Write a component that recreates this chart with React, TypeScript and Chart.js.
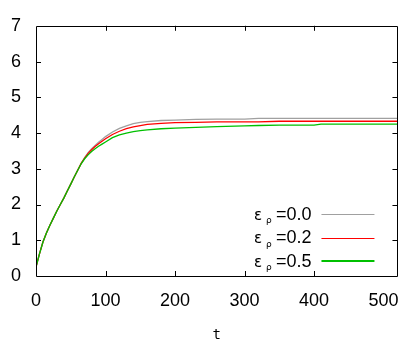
import React, { useEffect, useRef } from "react";
import { Chart, registerables } from "chart.js";

Chart.register(...registerables);

const tValues = [0, 5, 10, 15, 20, 25, 30, 35, 40, 45, 50, 55, 60, 65, 70, 75, 80, 85, 90, 95, 100, 110, 120, 130, 140, 150, 160, 180, 200, 230, 260, 300, 320, 350, 400, 410, 450, 520];
const eps00 = [0.25, 0.62, 0.95, 1.2, 1.42, 1.62, 1.82, 2.0, 2.18, 2.38, 2.57, 2.77, 2.96, 3.15, 3.31, 3.45, 3.56, 3.65, 3.74, 3.82, 3.9, 4.03, 4.13, 4.2, 4.26, 4.3, 4.32, 4.35, 4.36, 4.38, 4.39, 4.39, 4.41, 4.41, 4.41, 4.41, 4.41, 4.41];
const eps02 = [0.25, 0.62, 0.95, 1.2, 1.42, 1.62, 1.82, 2.0, 2.18, 2.38, 2.57, 2.77, 2.96, 3.15, 3.3, 3.43, 3.53, 3.62, 3.7, 3.77, 3.84, 3.96, 4.05, 4.12, 4.17, 4.21, 4.24, 4.27, 4.29, 4.3, 4.31, 4.31, 4.31, 4.33, 4.33, 4.33, 4.33, 4.33];
const eps05 = [0.25, 0.62, 0.95, 1.2, 1.42, 1.62, 1.82, 2.0, 2.18, 2.38, 2.57, 2.77, 2.96, 3.14, 3.28, 3.39, 3.48, 3.56, 3.63, 3.69, 3.75, 3.87, 3.95, 4.0, 4.04, 4.07, 4.09, 4.12, 4.14, 4.16, 4.18, 4.2, 4.21, 4.22, 4.22, 4.25, 4.25, 4.25];
const seriesLabels = ["0.0", "0.2", "0.5"];
const seriesColors = ["#a0a0a0", "#ff0000", "#00c000"];
const xTicks = [0, 100, 200, 300, 400, 500];
const yTicks = [0, 1, 2, 3, 4, 5, 6, 7];

const frame = {
  id: "frame",
  afterDatasetsDraw(chart: any) {
    const { ctx, chartArea } = chart;
    const { left, right, top, bottom } = chartArea;
    const xs = chart.scales.x;
    const ys = chart.scales.y;
    ctx.save();
    ctx.strokeStyle = "#000";
    ctx.lineWidth = 1;
    ctx.beginPath();
    ctx.rect(Math.round(left) + 0.5, Math.round(top) + 0.5, Math.round(right - left), Math.round(bottom - top));
    ctx.stroke();
    const tl = 5;
    ctx.beginPath();
    xTicks.forEach((v) => {
      if (v <= 0 || v >= 500) return;
      const px = Math.round(xs.getPixelForValue(v)) + 0.5;
      ctx.moveTo(px, bottom);
      ctx.lineTo(px, bottom - tl);
      ctx.moveTo(px, top);
      ctx.lineTo(px, top + tl);
    });
    yTicks.forEach((v) => {
      if (v <= 0 || v >= 7) return;
      const py = Math.round(ys.getPixelForValue(v)) + 0.5;
      ctx.moveTo(left, py);
      ctx.lineTo(left + tl, py);
      ctx.moveTo(right, py);
      ctx.lineTo(right - tl, py);
    });
    ctx.stroke();

    // legend (gnuplot style key, bottom-right inside)
    const rowY = [bottom - 62, bottom - 38.5, bottom - 15];
    const textRight = right - 86;
    const lineX0 = right - 76;
    const lineX1 = right - 23;
    seriesLabels.forEach((lab, i) => {
      const y = rowY[i];
      ctx.fillStyle = "#000";
      ctx.textBaseline = "middle";
      ctx.textAlign = "left";
      ctx.font = "18px 'Liberation Sans', Arial, sans-serif";
      const rest = "=" + lab;
      const wRest = ctx.measureText(rest).width;
      const xRest = textRight - wRest;
      ctx.fillText(rest, xRest, y + 1);
      ctx.font = "15px 'DejaVu Sans', sans-serif";
      ctx.fillText("ε", xRest - 22, y + 2);
      ctx.font = "9px 'DejaVu Sans', sans-serif";
      ctx.fillText("ρ", xRest - 10, y + 7);
      ctx.strokeStyle = seriesColors[i];
      ctx.lineWidth = i === 2 ? 2 : 1;
      ctx.beginPath();
      const ly = i === 2 ? Math.round(y) : Math.round(y) + 0.5;
      ctx.moveTo(lineX0, ly);
      ctx.lineTo(lineX1, ly);
      ctx.stroke();
    });
    ctx.restore();
  },
};

export default function App() {
  const ref = useRef<HTMLCanvasElement | null>(null);
  useEffect(() => {
    if (!ref.current) return;
    const data = [eps00, eps02, eps05];
    const chart = new Chart(ref.current, {
      type: "line",
      data: {
        datasets: data.map((arr, i) => ({
          label: "ερ=" + seriesLabels[i],
          data: tValues.map((t, j) => ({ x: t, y: arr[j] })),
          borderColor: seriesColors[i],
          borderWidth: 1.3,
          pointRadius: 0,
          tension: 0,
          order: 2 - i,
          fill: false,
        })),
      },
      options: {
        animation: false,
        responsive: false,
        maintainAspectRatio: false,
        layout: { padding: { top: 15, right: 11, left: 0, bottom: 0 } },
        plugins: { legend: { display: false }, tooltip: { enabled: false } },
        scales: {
          x: {
            type: "linear",
            min: 0,
            max: 520,
            afterFit: (s: any) => {
              s.height = 68;
            },
            grid: { display: false, drawTicks: false },
            border: { display: false },
            ticks: {
              stepSize: 100,
              includeBounds: false,
              maxRotation: 0,
              autoSkip: false,
              padding: 14,
              color: "#000",
              font: { family: "'Liberation Sans', Arial, sans-serif", size: 18 },
            },
            title: {
              display: true,
              text: "t",
              color: "#000",
              padding: { top: 0, bottom: 0 },
              font: { family: "'DejaVu Sans Mono', monospace", size: 14 },
            },
          },
          y: {
            min: 0,
            max: 7,
            afterFit: (s: any) => {
              s.width = 36;
            },
            grid: { display: false, drawTicks: false },
            border: { display: false },
            ticks: {
              stepSize: 1,
              padding: 15,
              color: "#000",
              font: { family: "'Liberation Sans', Arial, sans-serif", size: 18 },
            },
          },
        },
      },
      plugins: [frame],
    });
    return () => chart.destroy();
  }, []);
  return (
    <div style={{ position: "fixed", left: 0, top: 0, width: 413, height: 344, background: "#fff" }}>
      <canvas ref={ref} width={413} height={344} style={{ width: 413, height: 344 }} />
    </div>
  );
}
